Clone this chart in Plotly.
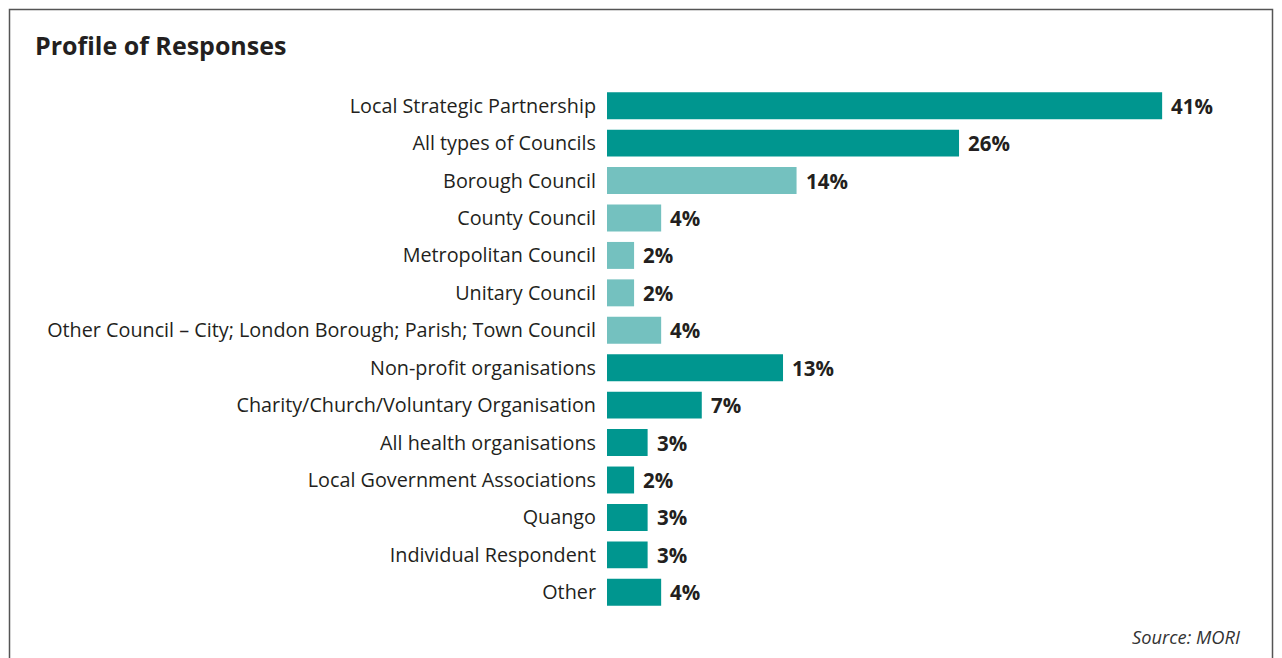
import plotly.graph_objects as go

categories = [
    "Local Strategic Partnership",
    "All types of Councils",
    "Borough Council",
    "County Council",
    "Metropolitan Council",
    "Unitary Council",
    "Other Council \u2013 City; London Borough; Parish; Town Council",
    "Non-profit organisations",
    "Charity/Church/Voluntary Organisation",
    "All health organisations",
    "Local Government Associations",
    "Quango",
    "Individual Respondent",
    "Other",
]
percentages = [41, 26, 14, 4, 2, 2, 4, 13, 7, 3, 2, 3, 3, 4]
# council subtypes are shown in a lighter shade
is_council_subtype = [False, False, True, True, True, True, True,
                      False, False, False, False, False, False, False]

DARK = "#00968f"
LIGHT = "#74c1bf"
TEXT = "#231f20"
FONT = "Open Sans, Noto Sans, sans-serif"

W, H = 1282, 658
L, R, T, B = 607, 32, 87, 47
px_per_unit = 13.54
x_max = (W - L - R) / px_per_unit

colors = [LIGHT if c else DARK for c in is_council_subtype]

fig = go.Figure(go.Bar(
    x=percentages,
    y=categories,
    orientation="h",
    marker=dict(color=colors, line=dict(width=0)),
    width=0.72,
    hoverinfo="skip",
))

pw = W - L - R
ph = H - T - B


def px_to_paper_x(px):
    return (px - L) / pw


def px_to_paper_y(py):
    return (H - B - py) / ph


# value labels just past the end of each bar
value_labels = [
    dict(
        text=f"<b>{v}%</b>",
        x=v, y=c, xref="x", yref="y",
        xanchor="left", yanchor="middle",
        xshift=7,
        showarrow=False,
        font=dict(family=FONT, size=20.5, color=TEXT),
    )
    for c, v in zip(categories, percentages)
]

fig.update_layout(
    width=W,
    height=H,
    margin=dict(l=L, r=R, t=T, b=B, pad=0),
    paper_bgcolor="white",
    plot_bgcolor="white",
    showlegend=False,
    xaxis=dict(range=[0, x_max], visible=False, showgrid=False, zeroline=False),
    yaxis=dict(
        autorange="reversed",
        showgrid=False,
        zeroline=False,
        showline=False,
        ticks="",
        ticklabelstandoff=10,
        tickfont=dict(family=FONT, size=19.8, color=TEXT),
    ),
    shapes=[
        dict(
            type="rect",
            xref="paper", yref="paper",
            x0=px_to_paper_x(9.5), x1=px_to_paper_x(1272.5),
            y0=px_to_paper_y(720), y1=px_to_paper_y(9.5),
            line=dict(color="#555555", width=1.5),
            fillcolor="rgba(0,0,0,0)",
            layer="below",
        )
    ],
    annotations=value_labels + [
        dict(
            text="<b>Profile of Responses</b>",
            xref="paper", yref="paper",
            x=px_to_paper_x(33), y=px_to_paper_y(45),
            xanchor="left", yanchor="middle",
            showarrow=False,
            font=dict(family=FONT, size=25, color=TEXT),
        ),
        dict(
            text="<i>Source: MORI</i>",
            xref="paper", yref="paper",
            x=px_to_paper_x(1243), y=px_to_paper_y(636),
            xanchor="right", yanchor="middle",
            showarrow=False,
            font=dict(family=FONT, size=18.3, color="#333333"),
        ),
    ],
)

fig.write_html("out.html")
